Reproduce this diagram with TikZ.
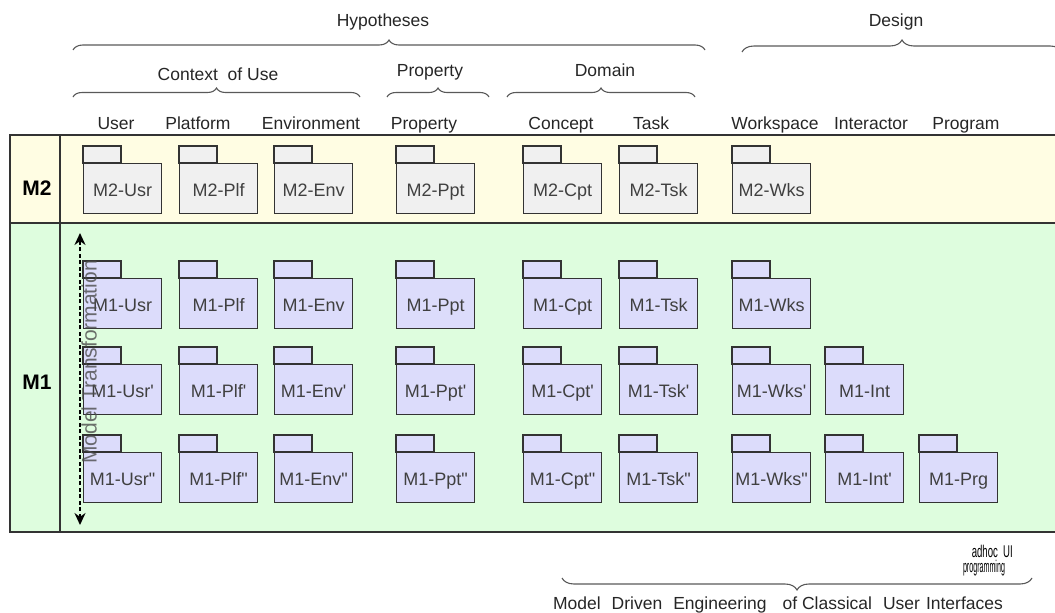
\documentclass[tikz,border=0pt]{standalone}
\usepackage{fontspec}
\setmainfont{Liberation Sans}
\newfontfamily\plainfont{Liberation Sans}
\usepackage{graphicx}
\usetikzlibrary{decorations.pathreplacing,arrows.meta}
\definecolor{bandY}{HTML}{FFFDE3}
\definecolor{bandG}{HTML}{DEFDDE}
\definecolor{pkgG}{HTML}{F0F0F0}
\definecolor{pkgB}{HTML}{DCDCFB}
\definecolor{lineC}{HTML}{333333}
\newcommand\pkg[5]{%
  \draw[pkgline, fill=#5] (#2,{17-#3}) rectangle ({#2+38},-#3);
  \node[pkgbody, fill=#5] (#1) at (#2,-#3) {#4};
}
\begin{document}
\begin{tikzpicture}[x=1pt,y=1pt,
  hdr/.style={font=\fontsize{17.5}{20}\selectfont, text=black!85, inner sep=0pt, anchor=base},
  pkgline/.style={draw=lineC, line width=1.3pt},
  pkgbody/.style={pkgline, anchor=north west, minimum width=78pt, minimum height=50pt,
    inner sep=0pt, text height=15pt, text depth=0pt,
    font=\plainfont\fontsize{18}{20}\selectfont, text=black!75},
  bandline/.style={draw=lineC, line width=1.4pt},
  brc/.style={draw=black!65, line width=1.1pt, decorate, decoration={brace}},
  mlab/.style={font=\bfseries\fontsize{21}{24}\selectfont, inner sep=0pt}]
\useasboundingbox (0,0) rectangle (1055,-613);
% bands
\fill[bandY] (10,-135) rectangle (1060,-223);
\fill[bandG] (10,-223) rectangle (1060,-532);
\draw[bandline] (1060,-135) -- (10,-135) -- (10,-532) -- (1060,-532);
\draw[bandline] (10,-223) -- (1060,-223);
\draw[bandline] (60,-135) -- (60,-532);
\node[mlab] (m2) at (37,-188) {M2};
\node[mlab] (m1) at (37,-382) {M1};
% braces
\draw[brc, decoration={amplitude=10pt}] (73,-50) -- (705,-50);
\draw[brc, decoration={amplitude=12pt}] (742,-52) -- (1062,-52);
\draw[brc, decoration={amplitude=9pt}] (73,-97) -- (360,-97);
\draw[brc, decoration={amplitude=9pt}] (387,-97) -- (489,-97);
\draw[brc, decoration={amplitude=9pt}] (507,-97) -- (695,-97);
\draw[brc, decoration={amplitude=12pt, mirror}] (562,-578) -- (1032,-578);
% group labels
\node[hdr] (hyp) at (383,-27) {Hypotheses};
\node[hdr] (des) at (896,-27) {Design};
\node[hdr] (ctx) at (218,-80) {Context\ \ of Use};
\node[hdr] (pgrp) at (430,-76) {Property};
\node[hdr] (dom) at (605,-76) {Domain};
% column headers
\node[hdr] (hU) at (116,-129.5) {User};
\node[hdr] (hP) at (198,-129.5) {Platform};
\node[hdr] (hE) at (311,-129.5) {Environment};
\node[hdr] (hPp) at (424,-129.5) {Property};
\node[hdr] (hC) at (561,-129.5) {Concept};
\node[hdr] (hT) at (651,-129.5) {Task};
\node[hdr] (hW) at (775,-129.5) {Workspace};
\node[hdr] (hI) at (871,-129.5) {Interactor};
\node[hdr] (hG) at (966,-129.5) {Program};
% M2 packages
\pkg{a1}{83}{163}{M2-Usr}{pkgG}
\pkg{a2}{179}{163}{M2-Plf}{pkgG}
\pkg{a3}{274}{163}{M2-Env}{pkgG}
\pkg{a4}{396}{163}{M2-Ppt}{pkgG}
\pkg{a5}{523}{163}{M2-Cpt}{pkgG}
\pkg{a6}{619}{163}{M2-Tsk}{pkgG}
\pkg{a7}{732}{163}{M2-Wks}{pkgG}
% M1 row 1
\pkg{b1}{83}{278}{M1-Usr}{pkgB}
\pkg{b2}{179}{278}{M1-Plf}{pkgB}
\pkg{b3}{274}{278}{M1-Env}{pkgB}
\pkg{b4}{396}{278}{M1-Ppt}{pkgB}
\pkg{b5}{523}{278}{M1-Cpt}{pkgB}
\pkg{b6}{619}{278}{M1-Tsk}{pkgB}
\pkg{b7}{732}{278}{M1-Wks}{pkgB}
% M1 row 2
\pkg{c1}{83}{364}{M1-Usr'}{pkgB}
\pkg{c2}{179}{364}{M1-Plf'}{pkgB}
\pkg{c3}{274}{364}{M1-Env'}{pkgB}
\pkg{c4}{396}{364}{M1-Ppt'}{pkgB}
\pkg{c5}{523}{364}{M1-Cpt'}{pkgB}
\pkg{c6}{619}{364}{M1-Tsk'}{pkgB}
\pkg{c7}{732}{364}{M1-Wks'}{pkgB}
\pkg{c8}{825}{364}{M1-Int}{pkgB}
% M1 row 3
\pkg{d1}{83}{452}{M1-Usr"}{pkgB}
\pkg{d2}{179}{452}{M1-Plf"}{pkgB}
\pkg{d3}{274}{452}{M1-Env"}{pkgB}
\pkg{d4}{396}{452}{M1-Ppt"}{pkgB}
\pkg{d5}{523}{452}{M1-Cpt"}{pkgB}
\pkg{d6}{619}{452}{M1-Tsk"}{pkgB}
\pkg{d7}{732}{452}{M1-Wks"}{pkgB}
\pkg{d8}{825}{452}{M1-Int'}{pkgB}
\pkg{d9}{919}{452}{M1-Prg}{pkgB}
% model transformation
\coordinate (mtTop) at (80,-233);
\coordinate (mtBot) at (80,-525);
\draw[black, line width=2.8pt, dash pattern=on 4pt off 2.5pt,
  {Stealth[length=12pt,width=11pt]}-{Stealth[length=12pt,width=11pt]}] (mtBot) -- (mtTop);
\node[font=\fontsize{21}{24}\selectfont, text=black!70, opacity=0.8, rotate=90, inner sep=0pt]
  (mt) at (89,-362) {Model Transformation};
% bottom labels
\node[font=\fontsize{17}{19}\selectfont, anchor=base east, inner sep=0pt] (adhoc) at (1013,-557)
  {\resizebox{41pt}{\height}{adhoc\ \ UI}};
\node[font=\fontsize{17}{19}\selectfont, anchor=base, inner sep=0pt] (prog) at (984,-572)
  {\resizebox{42pt}{\height}{programming}};
\node[hdr] (mde) at (778,-609) {Model\hspace{11pt}Driven\hspace{11pt}Engineering\hspace{16pt}of Classical\hspace{11pt}User\hspace{6pt}Interfaces};
\end{tikzpicture}
\end{document}
